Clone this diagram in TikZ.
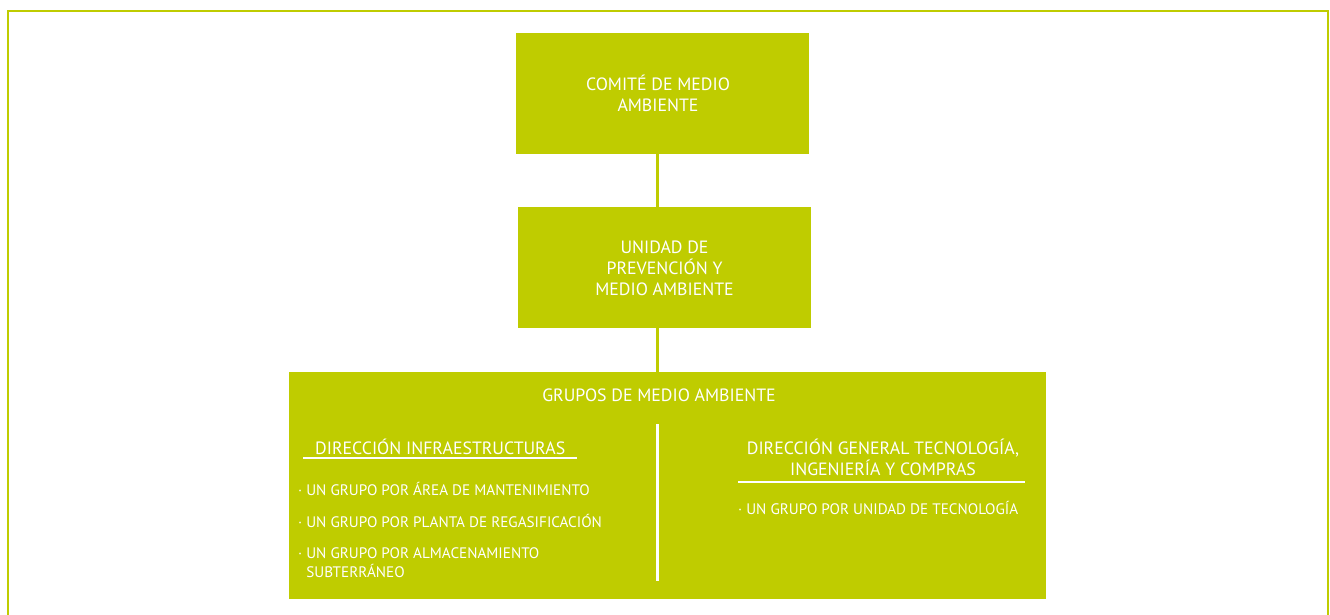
\documentclass[tikz,border=0pt]{standalone}
\usepackage{fontspec}
\setmainfont{PT Sans}
\definecolor{lime}{RGB}{191,204,0}
\begin{document}
\begin{tikzpicture}[x=1pt,y=-1pt,
  box/.style={fill=lime,draw=none,inner sep=0pt},
  conn/.style={draw=lime,line width=3pt},
  wline/.style={draw=white,line width=2.5pt},
  head/.style={text=white,font=\fontsize{17.8}{21}\selectfont,align=center,inner sep=0pt},
  item/.style={text=white,font=\fontsize{15.2}{19}\selectfont,align=left,anchor=west,inner sep=0pt}]
\useasboundingbox (0,0) rectangle (1330,615);
\path[clip] (0,0) rectangle (1330,615);
\draw[lime,line width=2.5pt] (8,620) -- (8,11) -- (1328,11) -- (1328,620);
% boxes
\path[box] (516,33) rectangle (809,154);
\path[box] (518,207) rectangle (811,328);
\path[box] (289,372) rectangle (1046,599);
\coordinate (b1b) at (657.5,154);
\coordinate (b2t) at (657.5,207);
\coordinate (b2b) at (657.5,328);
\coordinate (b3t) at (657.5,372);
\node[head] (t1) at (658,93) {COMITÉ DE MEDIO\\AMBIENTE};
\node[head] (t2) at (664.5,268) {UNIDAD DE\\PREVENCIÓN Y\\MEDIO AMBIENTE};
\draw[conn] (b1b) -- (b2t);
\draw[conn] (b2b) -- (b3t);
\node[head] (t3) at (659,395) {GRUPOS DE MEDIO AMBIENTE};
% divider
\coordinate (d1) at (657.5,424);
\coordinate (d2) at (657.5,581);
\draw[wline] (d1) -- (d2);
% left column
\node[head,anchor=west] (l1) at (315,447) {DIRECCIÓN INFRAESTRUCTURAS};
\coordinate (u1a) at (303,458);
\coordinate (u1b) at (577,458);
\draw[wline] (u1a) -- (u1b);
\node[item] (li1) at (298,489) {· UN GRUPO POR ÁREA DE MANTENIMIENTO};
\node[item] (li2) at (298,521) {· UN GRUPO POR PLANTA DE REGASIFICACIÓN};
\node[item,anchor=north west] (li3) at (298,547) {· UN GRUPO POR ALMACENAMIENTO\\\hphantom{· }SUBTERRÁNEO};
% right column
\node[head] (r1) at (883,457) {DIRECCIÓN GENERAL TECNOLOGÍA,\\INGENIERÍA Y COMPRAS};
\coordinate (u2a) at (738,482);
\coordinate (u2b) at (1025,482);
\draw[wline] (u2a) -- (u2b);
\node[item] (ri1) at (738,508) {· UN GRUPO POR UNIDAD DE TECNOLOGÍA};
\end{tikzpicture}
\end{document}
